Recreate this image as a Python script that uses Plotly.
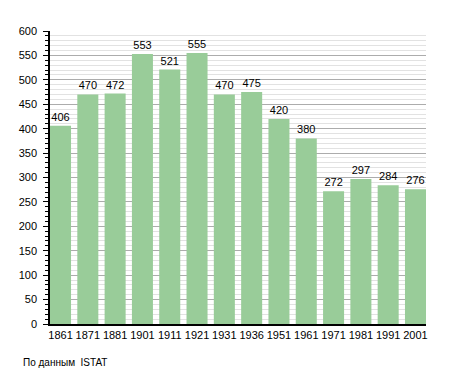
import plotly.graph_objects as go

years = ["1861", "1871", "1881", "1901", "1911", "1921", "1931", "1936",
         "1951", "1961", "1971", "1981", "1991", "2001"]
population = [406, 470, 472, 553, 521, 555, 470, 475, 420, 380, 272, 297, 284, 276]
y_ticks = [0, 50, 100, 150, 200, 250, 300, 350, 400, 450, 500, 550, 600]
source_note = "По данным  ISTAT"

gap = 0.23
fig = go.Figure()
fig.add_trace(go.Bar(
    x=years, y=population,
    marker=dict(color="#99cc99", line=dict(width=0)),
    text=[str(v) for v in population],
    textposition="outside",
    textfont=dict(size=11, color="black"),
    cliponaxis=False,
))

fig.update_layout(
    width=447, height=365,
    margin=dict(l=42, r=29, t=23, b=49),
    paper_bgcolor="white", plot_bgcolor="white",
    font=dict(family="Liberation Sans, Arial, sans-serif", size=11, color="black"),
    bargap=gap,
    showlegend=False,
    xaxis=dict(
        type="category",
        range=[-0.5 + gap / 2, len(years) - 0.5 - gap / 2],
        showline=True, linecolor="black", linewidth=1.5,
        ticks="", showgrid=False,
        tickfont=dict(size=11),
    ),
    yaxis=dict(
        range=[0, 600],
        tickvals=y_ticks,
        showline=True, linecolor="black", linewidth=1.5,
        ticks="outside", ticklen=5, tickcolor="black",
        ticklabelstandoff=4,
        showgrid=True, gridcolor="#acacac", gridwidth=1,
        zeroline=False,
        tickfont=dict(size=11),
        minor=dict(dtick=10, ticks="outside", ticklen=3, tickcolor="black",
                   showgrid=True, gridcolor="#e2e2e2", gridwidth=1),
    ),
)

fig.add_annotation(
    text=source_note, xref="paper", yref="paper",
    x=-29 / 376, y=-38 / 293, xanchor="left", yanchor="middle",
    showarrow=False, font=dict(size=10),
)

fig.write_html("out.html")
